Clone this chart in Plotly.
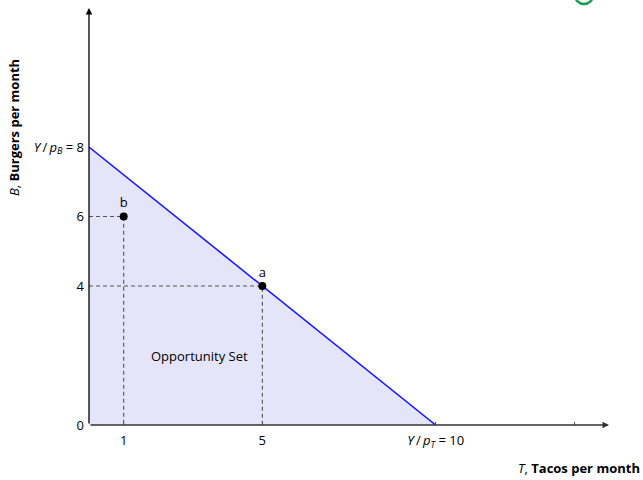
import plotly.graph_objects as go

# ---- data ----
budget_T = [0, 10]          # tacos at the intercepts
budget_B = [8, 0]           # burgers at the intercepts
point_labels = ["a", "b"]
point_T = [5, 1]
point_B = [4, 6]
x_tickvals = [1, 5, 10, 14]
x_ticktext = ["1", "5", "<i>Y</i>\u2009/\u2009<i>p</i><sub><i>T</i></sub> = 10", ""]
y_tickvals = [0, 4, 6, 8]
y_ticktext = ["0", "4", "6", "<i>Y</i>\u2009/\u2009<i>p</i><sub><i>B</i></sub> = 8"]
x_max = 15
y_max = 12
region_label = "Opportunity Set"
region_pos = (3.2, 2.0)

FONT = "Open Sans"
FS = 13
fig = go.Figure()

# opportunity set fill
fig.add_trace(go.Scatter(
    x=[0, budget_T[0], budget_T[1], 0], y=[0, budget_B[0], budget_B[1], 0],
    fill="toself", fillcolor="#e5e5fa", line=dict(width=0), mode="lines",
    hoverinfo="skip", showlegend=False))

# dashed guides
for t, b in zip(point_T, point_B):
    fig.add_trace(go.Scatter(
        x=[0, t, t], y=[b, b, 0], mode="lines",
        line=dict(color="#555555", width=1.1, dash="4px,3px"),
        hoverinfo="skip", showlegend=False))

# budget line
fig.add_trace(go.Scatter(
    x=budget_T, y=budget_B, mode="lines",
    line=dict(color="#1a1aff", width=1.6), showlegend=False))

# points
fig.add_trace(go.Scatter(
    x=point_T, y=point_B, mode="markers+text", text=point_labels,
    textposition="top center", textfont=dict(family=FONT, size=FS, color="black"),
    marker=dict(color="black", size=8), showlegend=False))

# region label
fig.add_annotation(x=region_pos[0], y=region_pos[1], text=region_label,
                   showarrow=False, font=dict(family=FONT, size=FS, color="black"))

# axes with arrows
fig.add_annotation(x=x_max, y=0, ax=0, ay=0, xref="x", yref="y", axref="x", ayref="y",
                   text="", showarrow=True, arrowhead=2, arrowsize=1, arrowwidth=1.3,
                   arrowcolor="#333333")
fig.add_annotation(x=0, y=y_max, ax=0, ay=0, xref="x", yref="y", axref="x", ayref="y",
                   text="", showarrow=True, arrowhead=2, arrowsize=1, arrowwidth=1.3,
                   arrowcolor="black")

# axis titles
fig.add_annotation(xref="paper", yref="paper", x=1, y=0, xshift=33, yshift=-43,
                   xanchor="right", yanchor="middle", showarrow=False,
                   text="<i>T</i>, <b>Tacos per month</b>",
                   font=dict(family=FONT, size=FS, color="black"))
fig.add_annotation(xref="paper", yref="paper", x=0, y=0.712, xshift=-75,
                   xanchor="center", yanchor="middle", showarrow=False, textangle=-90,
                   text="<i>B</i>, <b>Burgers per month</b>",
                   font=dict(family=FONT, size=FS, color="black"))

# green decoration at top right
fig.add_shape(type="circle", xref="paper", yref="paper",
              x0=(575 - 89) / 520, x1=(593 - 89) / 520,
              y0=(425 - 4) / 417, y1=(425 + 14) / 417,
              line=dict(color="#1a9a4a", width=2.5))

fig.update_xaxes(range=[0, x_max], showgrid=False, zeroline=False, showline=False,
                 tickvals=x_tickvals, ticktext=x_ticktext, ticks="inside", ticklen=3,
                 tickcolor="#555555", ticklabelstandoff=6,
                 tickfont=dict(family=FONT, size=FS, color="black"))
fig.update_yaxes(range=[0, y_max], showgrid=False, zeroline=False, showline=False,
                 tickvals=y_tickvals, ticktext=y_ticktext, ticks="", ticklabelstandoff=4,
                 tickfont=dict(family=FONT, size=FS, color="black"))

fig.update_layout(width=643, height=480, margin=dict(l=89, r=34, t=8, b=55),
                  plot_bgcolor="white", paper_bgcolor="white", showlegend=False,
                  font=dict(family=FONT, size=FS, color="black"))

fig.write_html("out.html", config={"displayModeBar": False},
               post_script="document.body.style.margin='0';")
